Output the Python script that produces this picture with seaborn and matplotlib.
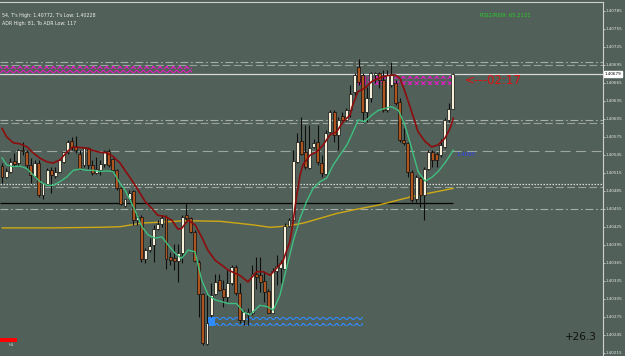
import matplotlib
matplotlib.use("Agg")
import matplotlib.pyplot as plt
import matplotlib.transforms as mtransforms
from matplotlib.patches import Rectangle
import numpy as np
import pandas as pd
import seaborn as sns

# ---------------- data ----------------
opens = [1.40526, 1.40508, 1.40517, 1.40534, 1.40531, 1.40553, 1.40550, 1.40528, 1.40509, 1.40531,
         1.40478, 1.40497, 1.40519, 1.40509, 1.40517, 1.40533, 1.40550, 1.40568, 1.40559, 1.40547,
         1.40528, 1.40556, 1.40528, 1.40515, 1.40519, 1.40529, 1.40552, 1.40538, 1.40519, 1.40489,
         1.40459, 1.40471, 1.40484, 1.40436, 1.40442, 1.40371, 1.40386, 1.40394, 1.40422, 1.40429,
         1.40442, 1.40374, 1.40373, 1.40368, 1.40381, 1.40444, 1.40439, 1.40417, 1.40367, 1.40313,
         1.40229, 1.40278, 1.40313, 1.40336, 1.40322, 1.40308, 1.40331, 1.40358, 1.40314, 1.40269,
         1.40278, 1.40281, 1.40347, 1.40344, 1.40334, 1.40318, 1.40282, 1.40351, 1.40356, 1.40354,
         1.40427, 1.40436, 1.40533, 1.40568, 1.40550, 1.40523, 1.40558, 1.40566, 1.40532, 1.40513,
         1.40583, 1.40617, 1.40578, 1.40610, 1.40603, 1.40619, 1.40650, 1.40691, 1.40678, 1.40617,
         1.40639, 1.40678, 1.40682, 1.40669, 1.40619, 1.40662, 1.40664, 1.40633, 1.40569, 1.40564,
         1.40517, 1.40471, 1.40507, 1.40478, 1.40522, 1.40550, 1.40547, 1.40544, 1.40558, 1.40603,
         1.40622]
highs = [1.40531, 1.40523, 1.40539, 1.40548, 1.40554, 1.40567, 1.40553, 1.40539, 1.40536, 1.40536,
         1.40499, 1.40523, 1.40525, 1.40525, 1.40538, 1.40550, 1.40570, 1.40575, 1.40576, 1.40553,
         1.40558, 1.40558, 1.40536, 1.40542, 1.40536, 1.40553, 1.40554, 1.40539, 1.40521, 1.40492,
         1.40472, 1.40486, 1.40486, 1.40447, 1.40444, 1.40389, 1.40406, 1.40428, 1.40436, 1.40444,
         1.40444, 1.40383, 1.40397, 1.40397, 1.40444, 1.40464, 1.40442, 1.40419, 1.40369, 1.40314,
         1.40311, 1.40331, 1.40347, 1.40346, 1.40336, 1.40353, 1.40361, 1.40361, 1.40331, 1.40286,
         1.40289, 1.40361, 1.40375, 1.40375, 1.40350, 1.40322, 1.40356, 1.40378, 1.40369, 1.40431,
         1.40439, 1.40553, 1.40581, 1.40608, 1.40594, 1.40594, 1.40572, 1.40594, 1.40544, 1.40586,
         1.40619, 1.40619, 1.40608, 1.40617, 1.40623, 1.40661, 1.40681, 1.40705, 1.40681, 1.40658,
         1.40683, 1.40683, 1.40683, 1.40686, 1.40686, 1.40700, 1.40669, 1.40639, 1.40589, 1.40567,
         1.40519, 1.40511, 1.40508, 1.40525, 1.40553, 1.40553, 1.40550, 1.40572, 1.40606, 1.40631,
         1.40681]
lows = [1.40498, 1.40506, 1.40514, 1.40525, 1.40526, 1.40544, 1.40519, 1.40498, 1.40506, 1.40475,
        1.40471, 1.40494, 1.40481, 1.40506, 1.40514, 1.40531, 1.40547, 1.40553, 1.40548, 1.40519,
        1.40525, 1.40522, 1.40511, 1.40513, 1.40511, 1.40525, 1.40525, 1.40517, 1.40486, 1.40461,
        1.40458, 1.40468, 1.40428, 1.40428, 1.40367, 1.40365, 1.40383, 1.40367, 1.40419, 1.40425,
        1.40355, 1.40361, 1.40353, 1.40333, 1.40364, 1.40436, 1.40414, 1.40367, 1.40275, 1.40228,
        1.40228, 1.40275, 1.40311, 1.40318, 1.40292, 1.40300, 1.40328, 1.40311, 1.40264, 1.40261,
        1.40261, 1.40278, 1.40322, 1.40317, 1.40300, 1.40281, 1.40281, 1.40328, 1.40331, 1.40353,
        1.40425, 1.40433, 1.40531, 1.40545, 1.40522, 1.40522, 1.40556, 1.40528, 1.40508, 1.40511,
        1.40582, 1.40567, 1.40553, 1.40601, 1.40601, 1.40608, 1.40644, 1.40661, 1.40600, 1.40600,
        1.40633, 1.40664, 1.40656, 1.40617, 1.40617, 1.40658, 1.40628, 1.40567, 1.40561, 1.40508,
        1.40467, 1.40467, 1.40458, 1.40436, 1.40519, 1.40525, 1.40525, 1.40542, 1.40556, 1.40600,
        1.40621]
closes = [1.40508, 1.40518, 1.40533, 1.40530, 1.40553, 1.40551, 1.40528, 1.40511, 1.40531, 1.40478,
          1.40498, 1.40519, 1.40511, 1.40517, 1.40536, 1.40549, 1.40566, 1.40558, 1.40553, 1.40522,
          1.40556, 1.40528, 1.40514, 1.40521, 1.40529, 1.40551, 1.40528, 1.40519, 1.40489, 1.40463,
          1.40471, 1.40482, 1.40436, 1.40441, 1.40371, 1.40386, 1.40393, 1.40422, 1.40429, 1.40440,
          1.40372, 1.40369, 1.40368, 1.40381, 1.40442, 1.40440, 1.40417, 1.40368, 1.40313, 1.40231,
          1.40265, 1.40311, 1.40333, 1.40319, 1.40308, 1.40331, 1.40358, 1.40314, 1.40269, 1.40283,
          1.40283, 1.40347, 1.40342, 1.40333, 1.40317, 1.40282, 1.40351, 1.40360, 1.40364, 1.40427,
          1.40437, 1.40534, 1.40567, 1.40547, 1.40525, 1.40557, 1.40564, 1.40533, 1.40514, 1.40582,
          1.40617, 1.40578, 1.40603, 1.40603, 1.40619, 1.40647, 1.40678, 1.40667, 1.40617, 1.40639,
          1.40681, 1.40682, 1.40669, 1.40619, 1.40678, 1.40679, 1.40631, 1.40569, 1.40564, 1.40517,
          1.40469, 1.40508, 1.40478, 1.40522, 1.40550, 1.40536, 1.40536, 1.40561, 1.40603, 1.40622,
          1.40679]

# indicator lines: bar position / price samples
red_bar = [0, 1.1, 2.7, 4.4, 6.1, 7.6, 9.3, 11, 12.4, 14.1, 15.9, 17.3, 19, 20.7, 22.2, 23.9, 25.6,
           27.1, 28.8, 30, 31.6, 33.2, 34.9, 36.5, 38, 39.8, 41.4, 42.9, 43.8, 45.4, 47.1, 48.7, 50.2,
           52, 53.6, 55.1, 58, 60, 62.1, 63.7, 65.4, 67, 68.5, 70.2, 71, 71.9, 72.7, 73.4, 75.1, 76.8,
           78.3, 80, 81.6, 83.2, 84.9, 85.3, 86.8, 88.5, 90.2, 91.7, 94.1, 95.9, 97.1, 98.3, 99.9,
           101.5, 103.2, 104.8, 106.3, 108, 109.3, 110.1]
red_val = [1.40589, 1.40575, 1.40565, 1.40563, 1.40558, 1.40548, 1.40539, 1.40533, 1.40531, 1.40536,
           1.40550, 1.40558, 1.40557, 1.40556, 1.40552, 1.40549, 1.40548, 1.40542, 1.40531, 1.40519,
           1.40503, 1.40486, 1.40467, 1.40456, 1.40444, 1.40442, 1.40436, 1.40421, 1.40422, 1.40436,
           1.40428, 1.40408, 1.40386, 1.40369, 1.40361, 1.40353, 1.40344, 1.40333, 1.40350, 1.40350,
           1.40344, 1.40356, 1.40367, 1.40400, 1.40433, 1.40478, 1.40511, 1.40528, 1.40544, 1.40550,
           1.40561, 1.40578, 1.40583, 1.40600, 1.40611, 1.40623, 1.40650, 1.40656, 1.40667, 1.40672,
           1.40677, 1.40678, 1.40672, 1.40650, 1.40617, 1.40583, 1.40567, 1.40558, 1.40561, 1.40572,
           1.40589, 1.40606]
green_bar = [0, 1.1, 2.8, 4.4, 6, 7.6, 9.3, 10.9, 12.5, 14.1, 15.8, 17.4, 19, 20.7, 22.3, 23.9, 25.5,
             27.1, 28.8, 30, 32.4, 34.1, 35.7, 37.3, 39, 40.6, 42.2, 43.8, 45.4, 47.1, 48.7, 50.3, 52,
             53.6, 55.2, 57.2, 58.9, 60.5, 62.9, 64.6, 66.2, 67.8, 69.4, 71, 72.7, 74.3, 75.9, 77.6,
             79.2, 80.8, 82.4, 84.1, 85.3, 86.9, 88.5, 90.2, 91.8, 93.4, 95, 96.7, 98.3, 99.9, 101.5,
             103.2, 104.8, 106.4, 108, 109.3, 110.1]
green_val = [1.40540, 1.40528, 1.40525, 1.40526, 1.40522, 1.40511, 1.40500, 1.40494, 1.40494, 1.40500,
             1.40508, 1.40519, 1.40521, 1.40519, 1.40519, 1.40517, 1.40518, 1.40517, 1.40497, 1.40486,
             1.40453, 1.40425, 1.40411, 1.40406, 1.40408, 1.40394, 1.40381, 1.40372, 1.40386, 1.40383,
             1.40336, 1.40311, 1.40303, 1.40300, 1.40297, 1.40297, 1.40283, 1.40278, 1.40294, 1.40292,
             1.40286, 1.40311, 1.40356, 1.40400, 1.40439, 1.40467, 1.40489, 1.40500, 1.40506, 1.40528,
             1.40544, 1.40561, 1.40578, 1.40603, 1.40600, 1.40611, 1.40619, 1.40622, 1.40625, 1.40619,
             1.40594, 1.40556, 1.40517, 1.40501, 1.40507, 1.40517, 1.40531, 1.40544, 1.40553]
yellow_bar = [0, 11.7, 23.9, 28.8, 34.1, 36.9, 45, 53.2, 61.3, 65.4, 69.4, 73.5, 77.6, 81.6, 85.7,
              91.8, 99.9, 110.1]
yellow_val = [1.40423, 1.40423, 1.40424, 1.40425, 1.40431, 1.40432, 1.40435, 1.40434, 1.40428,
              1.40424, 1.40426, 1.40431, 1.40439, 1.40447, 1.40453, 1.40461, 1.40475, 1.40489]

price_ticks = [1.40785, 1.40755, 1.40725, 1.40695, 1.40665, 1.40635, 1.40605, 1.40575, 1.40545,
               1.40515, 1.40485, 1.40455, 1.40425, 1.40395, 1.40365, 1.40335, 1.40305, 1.40275,
               1.40245, 1.40215]
current_price = 1.40679
black_level = 1.40464
dashdot_levels = [1.40699, 1.40603, 1.40454]
dashed_levels = [1.40694, 1.40598, 1.40491]
long_dash_level = 1.40551
dotted_level = 1.40496
# zones: (start bar, end bar, low, high)
magenta_zones = [(-0.5, 46.3, 1.40681, 1.40693), (86.8, 109.8, 1.40662, 1.40676)]
blue_zone = (50.2, 88.0, 1.40259, 1.40275)

# ---------------- styling ----------------
sns.set_style("ticks")
plt.rcParams['font.family'] = ['DejaVu Sans']
plt.rcParams['hatch.linewidth'] = 0.8
BG = '#516059'
BULL = '#f6f0d8'
BEAR = '#ad541f'
WICK = '#0e0e0e'

fig = plt.figure(figsize=(6.25, 3.56), dpi=100, facecolor=BG)
ax = fig.add_axes([0, 0, 603 / 625, 354 / 356])
ax.set_facecolor(BG)

n = len(opens)
df = pd.DataFrame({'bar': np.arange(n), 'open': opens, 'high': highs, 'low': lows, 'close': closes})
up = df['close'] >= df['open']
bottom = df[['open', 'close']].min(axis=1)
height = (df['close'] - df['open']).abs().clip(lower=0.000012)

# horizontal levels
for lv in dashdot_levels:
    ax.axhline(lv, color='#a7afab', lw=0.8, ls=(0, (7, 2.5, 1.5, 2.5)), zorder=1)
for lv in dashed_levels:
    ax.axhline(lv, color='#98a19d', lw=0.8, ls=(0, (7, 3)), zorder=1)
ax.axhline(long_dash_level, color='#9ea6a2', lw=0.8, ls=(0, (9, 5)), zorder=1)
ax.axhline(dotted_level, color='#d8d8d8', lw=0.9, ls=(0, (1.2, 1.2)), zorder=1)
ax.axhline(current_price, color='#d9d9d9', lw=0.9, zorder=1)
ax.hlines(black_level, -0.5, n - 1, color='#050505', lw=0.9, zorder=2)


def zigzag_band(x0, x1, lo, hi, color):
    """Two zigzag rows (top and bottom of the band) with a gap between them."""
    h = hi - lo
    for a in (lo, hi - 0.38 * h):
        ax.add_patch(Rectangle((x0, a), x1 - x0, 0.38 * h, facecolor='none', edgecolor=color,
                               hatch='xxxxx', lw=0, zorder=2))


for (x0, x1, lo, hi) in magenta_zones:
    zigzag_band(x0, x1, lo, hi, '#e020c0')
ax.add_patch(Rectangle((magenta_zones[1][0], magenta_zones[1][2]), 2.0,
                       magenta_zones[1][3] - magenta_zones[1][2], facecolor='#c0189a', lw=0, zorder=2))
bx0, bx1, blo, bhi = blue_zone
zigzag_band(bx0, bx1, blo, bhi, '#2f8cff')
ax.add_patch(Rectangle((bx0, blo), 1.7, bhi - blo, facecolor='#2f8cff', lw=0, zorder=2))

# indicator lines (seaborn)
sns.lineplot(x=yellow_bar, y=yellow_val, color='#cfa914', lw=1.0, ax=ax, sort=False, zorder=3)
sns.lineplot(x=green_bar, y=green_val, color='#3fbf7f', lw=1.0, ax=ax, sort=False, zorder=6)
sns.lineplot(x=red_bar, y=red_val, color='#8c0d0d', lw=1.2, ax=ax, sort=False, zorder=6)

# candles
ax.vlines(df['bar'], df['low'], df['high'], color=WICK, lw=0.8, zorder=4)
ax.bar(df['bar'][up], height[up], bottom=bottom[up], width=0.72, color=BULL,
       edgecolor=WICK, lw=0.5, zorder=5)
ax.bar(df['bar'][~up], height[~up], bottom=bottom[~up], width=0.72, color=BEAR,
       edgecolor=WICK, lw=0.5, zorder=5)

# axes
ax.set_xlim(-0.49, 146.6)
ax.set_ylim(1.402095, 1.407995)
ax.set_xticks([])
ax.yaxis.tick_right()
ax.set_yticks(price_ticks)
ax.set_yticklabels([f'{t:.5f}' for t in price_ticks])
ax.tick_params(axis='y', labelsize=3.0, colors='#e6e6e6', length=1.3, width=0.5, pad=0.6)
for s in ['left', 'bottom']:
    ax.spines[s].set_visible(False)
for s in ['right', 'top']:
    ax.spines[s].set_color('#cfcfcf')
    ax.spines[s].set_linewidth(0.8)
ax.set_xlabel('')
ax.set_ylabel('')
if ax.get_legend():
    ax.get_legend().remove()

trans = mtransforms.blended_transform_factory(ax.transAxes, ax.transData)
ax.text(1.003, current_price, f'{current_price:.5f}', transform=trans, ha='left', va='center',
        fontsize=3.0, color='black', bbox=dict(facecolor='white', edgecolor='white', pad=0.6),
        zorder=10, clip_on=False)
ax.text(n - 0.2, 1.40545, '1.4055', color='#2a3fff', fontsize=4.0, ha='left', va='center', zorder=8)

# overlay texts
fig.text(2 / 625, 1 - 16 / 356, "54, T's High: 1.40772, T's Low: 1.40228", fontsize=3.4,
         color='#f0f0f0', ha='left', va='center')
fig.text(2 / 625, 1 - 24 / 356, "ADR High: 81, To ADR Low: 117", fontsize=3.4,
         color='#f0f0f0', ha='left', va='center')
fig.text(480 / 625, 1 - 15 / 356, "RSI2/RSI9: 65.2131", fontsize=3.8, color='#28d028',
         ha='left', va='center')
fig.text(465 / 625, 1 - 81 / 356, "<---02:17", fontsize=8.5, color='#e01010',
         ha='left', va='center')
fig.text(565 / 625, 1 - 337 / 356, "+26.3", fontsize=7.5, color='#101010',
         ha='left', va='center')
fig.patches.append(Rectangle((0, 1 - 342 / 356), 17 / 625, 4 / 356, transform=fig.transFigure,
                             facecolor='#ff0000', lw=0))
fig.text(9 / 625, 1 - 345.5 / 356, "H1", fontsize=2.8, color='#e0e0e0', ha='left', va='center')

fig.savefig('out.png', dpi=100, facecolor=BG)
